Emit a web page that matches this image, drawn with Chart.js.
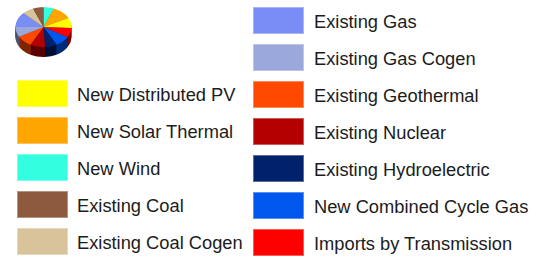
<!DOCTYPE html>
<html>
<head>
<meta charset="utf-8">
<script src="https://cdn.jsdelivr.net/npm/chart.js@4.4.1/dist/chart.umd.min.js"></script>
<style>
  html, body { margin: 0; padding: 0; background: #fff; }
  body { width: 535px; height: 256px; position: relative; overflow: hidden;
         font-family: "Liberation Sans", Arial, sans-serif; }
  #pie { position: absolute; left: 0; top: 0; }
  .item { position: absolute; height: 27px; }
  .box { position: absolute; left: 0; top: 0; width: 51px; height: 27px; box-sizing: border-box;
         border: 1px solid rgba(255,255,255,0.35); }
  .lbl { position: absolute; top: 1px; line-height: 27px; font-size: 18.3px; color: #1c1c1c; white-space: nowrap; }
</style>
</head>
<body>
<canvas id="pie" width="87" height="70"></canvas>
<div id="legend"></div>
<script>
// ---- data (legend order) ----
const categories = [
  "New Distributed PV", "New Solar Thermal", "New Wind", "Existing Coal", "Existing Coal Cogen",
  "Existing Gas", "Existing Gas Cogen", "Existing Geothermal", "Existing Nuclear",
  "Existing Hydroelectric", "New Combined Cycle Gas", "Imports by Transmission"
];
const shares = [30, 41, 22, 22, 24, 44, 29, 33, 31, 25, 31, 28];
const colors = [
  "#FFFF00", "#FFA500", "#33FFE0", "#8E5A3E", "#D9C39A",
  "#7A8CF5", "#9AA8DB", "#FF4800", "#B40000",
  "#00216C", "#0057EE", "#FF0000"
];
// clockwise order of slices in the pie, starting at 12 o'clock
const pieOrder = [2, 1, 0, 11, 10, 9, 8, 7, 6, 5, 4, 3];
// legend columns (indices into categories)
const leftColumn = [0, 1, 2, 3, 4];
const rightColumn = [5, 6, 7, 8, 9, 10, 11];

// ---- legend ----
const legend = document.getElementById('legend');
function addItem(idx, x, y) {
  const it = document.createElement('div');
  it.className = 'item';
  it.style.left = x + 'px'; it.style.top = y + 'px';
  const b = document.createElement('div'); b.className = 'box'; b.style.background = colors[idx];
  const t = document.createElement('div'); t.className = 'lbl'; t.style.left = (x === 17 ? 60 : 61) + 'px';
  t.textContent = categories[idx];
  it.appendChild(b); it.appendChild(t); legend.appendChild(it);
}
leftColumn.forEach((idx, i) => addItem(idx, 17, 80 + i * 37));
rightColumn.forEach((idx, i) => addItem(idx, 253, 7 + i * 37));

// ---- 3D pie ----
function darken(hex, f) {
  const n = parseInt(hex.slice(1), 16);
  const r = Math.round(((n >> 16) & 255) * f), g = Math.round(((n >> 8) & 255) * f), b = Math.round((n & 255) * f);
  return `rgb(${r},${g},${b})`;
}
const TOP_CY = 27, SQUASH = 0.714, DEPTH = 10;
const pie3d = {
  id: 'pie3d',
  beforeDatasetsDraw(chart) {
    const ctx = chart.ctx;
    const meta = chart.getDatasetMeta(0);
    const cols = chart.data.datasets[0].backgroundColor;
    for (let d = DEPTH; d >= 1; d--) {
      meta.data.forEach((arc, i) => {
        const p = arc.getProps(['x', 'y', 'startAngle', 'endAngle', 'outerRadius'], true);
        ctx.save();
        ctx.translate(p.x, TOP_CY + d);
        ctx.scale(1, SQUASH);
        ctx.translate(-p.x, -p.y);
        ctx.beginPath();
        ctx.moveTo(p.x, p.y);
        ctx.arc(p.x, p.y, p.outerRadius, p.startAngle, p.endAngle);
        ctx.closePath();
        ctx.fillStyle = darken(cols[i], 0.5);
        ctx.fill();
        ctx.restore();
      });
    }
    const a = meta.data[0];
    ctx.save();
    ctx.translate(a.x, TOP_CY);
    ctx.scale(1, SQUASH);
    ctx.translate(-a.x, -a.y);
  },
  afterDatasetsDraw(chart) {
    chart.ctx.restore();
  }
};

new Chart(document.getElementById('pie'), {
  type: 'pie',
  data: {
    labels: pieOrder.map(i => categories[i]),
    datasets: [{
      data: pieOrder.map(i => shares[i]),
      backgroundColor: pieOrder.map(i => colors[i]),
      borderWidth: 0
    }]
  },
  options: {
    responsive: false,
    devicePixelRatio: 1,
    animation: false,
    events: [],
    radius: 28,
    layout: { padding: 0 },
    plugins: { legend: { display: false }, tooltip: { enabled: false } }
  },
  plugins: [pie3d]
});
</script>
</body>
</html>
